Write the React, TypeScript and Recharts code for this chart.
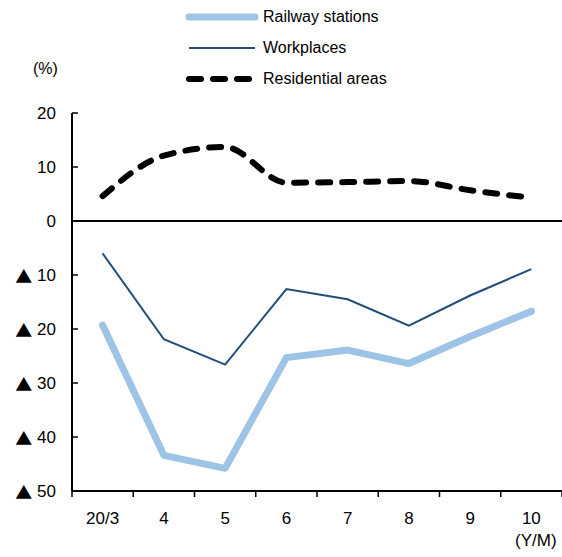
import React from 'react';
import { LineChart, Line, XAxis, YAxis, ReferenceLine } from 'recharts';

const months = ['20/3', '4', '5', '6', '7', '8', '9', '10'];
const railwayStations = [-19.3, -43.4, -45.8, -25.3, -23.9, -26.4, -21.4, -16.7];
const workplaces = [-6.0, -21.9, -26.6, -12.6, -14.5, -19.4, -13.8, -8.9];
const residentialAreas = [4.6, 12.1, 13.7, 7.1, 7.2, 7.4, 5.7, 4.3];
const yTicks = [-50, -40, -30, -20, -10, 0, 10, 20];

const data = months.map((month, i) => ({
  month,
  railway: railwayStations[i],
  workplaces: workplaces[i],
  residential: residentialAreas[i],
}));

const FONT = '"Liberation Sans", Arial, sans-serif';
const CJK_FONT = '"Noto Sans CJK JP", sans-serif';

// month label plus tick marks on the borders between months
const MonthTick = (props: any) => {
  const { x, y, payload, index, visibleTicksCount } = props;
  const half = payload.offset || 0;
  const isLast = index === visibleTicksCount - 1;
  return (
    <g>
      <line x1={x - half} x2={x - half} y1={y} y2={y + 6} stroke="#000" strokeWidth={1.5} />
      {isLast && <line x1={x + half} x2={x + half} y1={y} y2={y + 6} stroke="#000" strokeWidth={1.5} />}
      <text x={x} y={y + 27} textAnchor="middle" dominantBaseline="central" fontSize={17} fontFamily={FONT} fill="#000">
        {payload.value}
      </text>
    </g>
  );
};

// value label with a tick mark pointing into the plot;
// negative values are written with a triangle instead of a minus sign
const ValueTick = (props: any) => {
  const { x, y, payload } = props;
  const v: number = payload.value;
  return (
    <g>
      <line x1={x} x2={x + 6} y1={y} y2={y} stroke="#000" strokeWidth={1.5} />
      <text x={x - 16} y={y} textAnchor="end" dominantBaseline="central" fontSize={17} fontFamily={FONT} fill="#000">
        {v < 0 && <tspan fontFamily={CJK_FONT}>▲</tspan>}
        {v < 0 ? ` ${Math.abs(v)}` : `${v}`}
      </text>
    </g>
  );
};

const legendItems = [
  { name: 'Railway stations', stroke: '#9DC3E6', width: 7, dash: undefined as string | undefined },
  { name: 'Workplaces', stroke: '#1F4E79', width: 2, dash: undefined },
  { name: 'Residential areas', stroke: '#000000', width: 6, dash: '12 12' },
];

const App: React.FC = () => {
  return (
    <div style={{ position: 'absolute', left: 0, top: 0, width: 562, height: 557, fontFamily: FONT, background: '#fff' }}>
      <div style={{ position: 'absolute', left: 184, top: 0 }}>
        {legendItems.map((item, i) => (
          <div key={item.name} style={{ display: 'flex', alignItems: 'center', height: 31, marginTop: i === 0 ? 1 : 0 }}>
            <svg width={76} height={12}>
              <line
                x1={5}
                x2={71}
                y1={6}
                y2={6}
                stroke={item.stroke}
                strokeWidth={item.width}
                strokeDasharray={item.dash}
                strokeLinecap={item.dash || item.width > 3 ? 'round' : 'butt'}
              />
            </svg>
            <span style={{ fontSize: 16, marginLeft: 3, color: '#000' }}>{item.name}</span>
          </div>
        ))}
      </div>
      <div style={{ position: 'absolute', left: 33, top: 60, fontSize: 16, color: '#000' }}>(%)</div>
      <div style={{ position: 'absolute', left: 515, top: 531, fontSize: 17, color: '#000' }}>(Y/M)</div>
      <LineChart width={562} height={557} data={data} margin={{ top: 113, right: 0, bottom: 0, left: 0 }}>
        <XAxis
          dataKey="month"
          scale="band"
          tickLine={false}
          tickSize={0}
          tickMargin={0}
          axisLine={{ stroke: '#000', strokeWidth: 2 }}
          tick={<MonthTick />}
          interval={0}
          height={66}
        />
        <YAxis
          domain={[-50, 20]}
          ticks={yTicks}
          width={72}
          tickLine={false}
          tickSize={0}
          tickMargin={0}
          axisLine={{ stroke: '#000', strokeWidth: 2 }}
          tick={<ValueTick />}
          interval={0}
        />
        <ReferenceLine y={0} stroke="#000" strokeWidth={2} />
        <Line
          dataKey="railway"
          type="linear"
          stroke="#9DC3E6"
          strokeWidth={7}
          strokeLinecap="round"
          strokeLinejoin="round"
          dot={false}
          isAnimationActive={false}
        />
        <Line
          dataKey="workplaces"
          type="linear"
          stroke="#1F4E79"
          strokeWidth={2}
          dot={false}
          isAnimationActive={false}
        />
        <Line
          dataKey="residential"
          type="monotone"
          stroke="#000"
          strokeWidth={6}
          strokeDasharray="12 12"
          strokeLinecap="round"
          dot={false}
          isAnimationActive={false}
        />
      </LineChart>
    </div>
  );
};

export default App;
